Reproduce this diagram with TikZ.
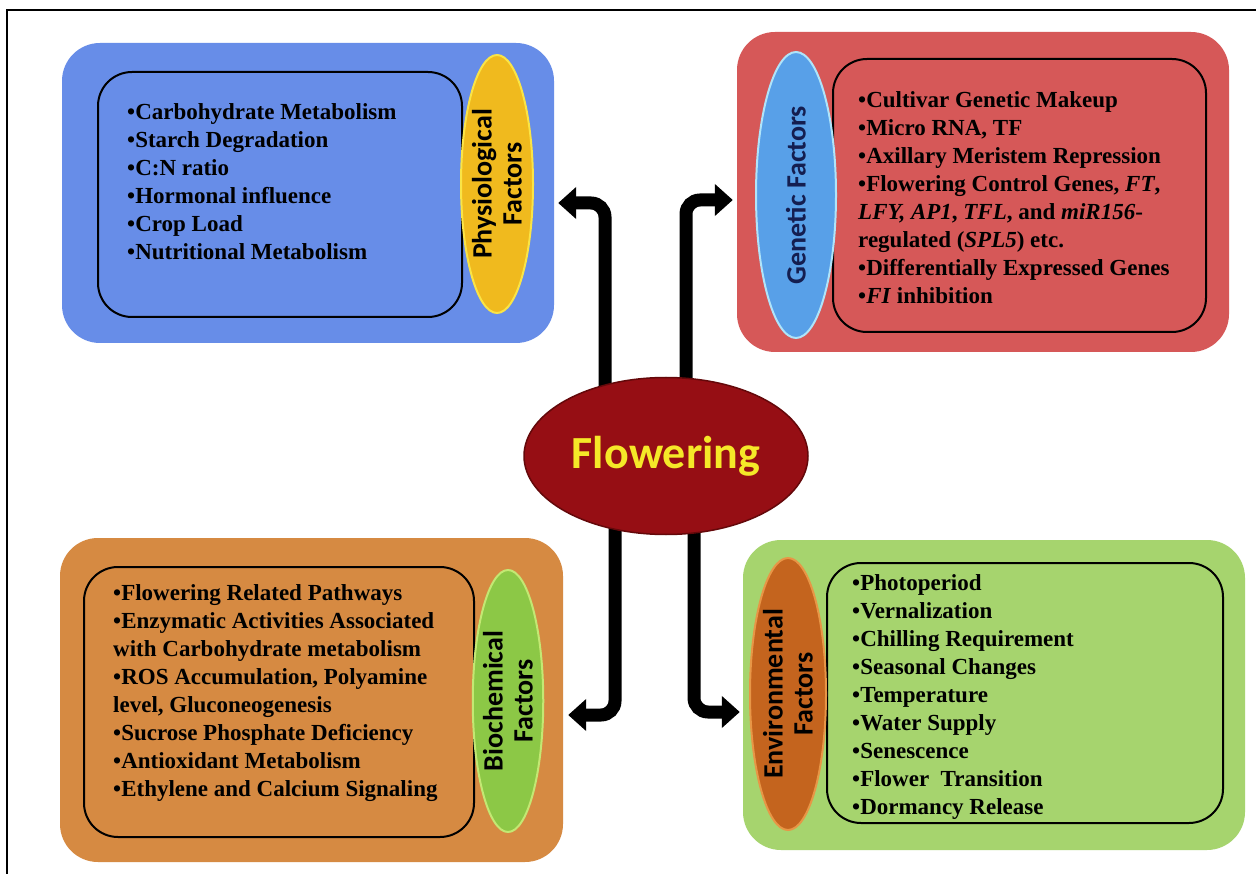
\documentclass[tikz,border=0pt]{standalone}
\usepackage{fontspec}
\setmainfont{Liberation Serif}
\newfontfamily\calfont{Carlito}
\usetikzlibrary{shapes.geometric,arrows.meta}
\pgfdeclarelayer{bg}
\pgfsetlayers{bg,main}
\definecolor{physblue}{RGB}{103,141,232}
\definecolor{physyellow}{RGB}{240,186,30}
\definecolor{physyellowrim}{RGB}{250,228,70}
\definecolor{genred}{RGB}{214,88,88}
\definecolor{genblue}{RGB}{88,160,232}
\definecolor{genbluerim}{RGB}{175,228,250}
\definecolor{bioorange}{RGB}{214,138,66}
\definecolor{biogreen}{RGB}{140,200,70}
\definecolor{biogreenrim}{RGB}{195,232,115}
\definecolor{envgreen}{RGB}{166,212,110}
\definecolor{envorange}{RGB}{196,100,30}
\definecolor{envorangerim}{RGB}{232,150,70}
\definecolor{flowred}{RGB}{150,14,20}
\definecolor{flowdark}{RGB}{100,8,10}
\definecolor{flowyellow}{RGB}{245,232,40}
\definecolor{navytext}{RGB}{20,30,80}
\begin{document}
\begin{tikzpicture}[x=1pt,y=-1pt,
  outerbox/.style={rounded corners=38pt, inner sep=0pt},
  innerbox/.style={draw=black, line width=2pt, rounded corners=34pt},
  factor/.style={ellipse, rotate=90, inner sep=0pt, align=center, line width=2pt,
    font=\calfont\bfseries\fontsize{28}{30}\selectfont},
  items/.style={anchor=north west, align=left, inner sep=0pt,
    font=\bfseries\fontsize{23}{28}\selectfont},
  arr/.style={line width=13pt, rounded corners=14pt, -{Triangle[length=18pt,width=31pt]}},
]
\useasboundingbox (0,0) rectangle (1256,874);
\begin{pgfonlayer}{bg}
\fill[white] (0,0) rectangle (1256,874);
\end{pgfonlayer}
\draw[line width=2pt] (7,874) -- (7,10) -- (1256,10);

% Physiological
\node[outerbox, fill=physblue, minimum width=492pt, minimum height=300pt] (phys) at (308,193) {};
\draw[innerbox] (98,72) rectangle (462,317);
\node[factor, fill=physyellow, draw=physyellowrim, minimum width=258pt, minimum height=72pt, text=black] (physE) at (497,184) {Physiological\\Factors};
\node[items] (physT) at (127,103) {•Carbohydrate Metabolism\\•Starch Degradation\\•C:N ratio\\•Hormonal influence\\•Crop Load\\•Nutritional Metabolism};

% Genetic
\node[outerbox, fill=genred, minimum width=492pt, minimum height=320pt] (gen) at (983,192) {};
\draw[innerbox] (833,59) rectangle (1206,332);
\node[factor, fill=genblue, draw=genbluerim, minimum width=286pt, minimum height=80pt, text=navytext] (genE) at (796,195) {Genetic Factors};
\node[items] (genT) at (858,91) {•Cultivar Genetic Makeup\\•Micro RNA, TF\\•Axillary Meristem Repression\\•Flowering Control Genes, \textit{FT},\\\textit{LFY, AP1}, \textit{TFL}, and \textit{miR156}-\\regulated (\textit{SPL5}) etc.\\•Differentially Expressed Genes\\•\textit{FI} inhibition};

% Biochemical
\node[outerbox, fill=bioorange, minimum width=503pt, minimum height=324pt] (bio) at (311.5,700) {};
\draw[innerbox] (84,567) rectangle (474,837);
\node[factor, fill=biogreen, draw=biogreenrim, minimum width=262pt, minimum height=68pt, text=black] (bioE) at (508,701) {Biochemical\\Factors};
\node[items] (bioT) at (113,584) {•Flowering Related Pathways\\•Enzymatic Activities Associated\\with Carbohydrate metabolism\\•ROS Accumulation, Polyamine\\level, Gluconeogenesis\\•Sucrose Phosphate Deficiency\\•Antioxidant Metabolism\\•Ethylene and Calcium Signaling};

% Environmental
\node[outerbox, fill=envgreen, minimum width=502pt, minimum height=310pt] (env) at (994,695) {};
\draw[innerbox] (827,563) rectangle (1223,823);
\node[factor, fill=envorange, draw=envorangerim, minimum width=272pt, minimum height=76pt, text=black] (envE) at (788,694) {Environmental\\Factors};
\node[items] (envT) at (852,574) {•Photoperiod\\•Vernalization\\•Chilling Requirement\\•Seasonal Changes\\•Temperature\\•Water Supply\\•Senescence\\•Flower~~Transition\\•Dormancy Release};

% Centre
\node[ellipse, fill=flowred, draw=flowdark, line width=1.5pt, minimum width=284pt, minimum height=157pt, inner sep=0pt,
  text=flowyellow, font=\calfont\bfseries\fontsize{46}{54}\selectfont] (flow) at (666,456) {\raisebox{-4pt}{Flowering}};

\begin{pgfonlayer}{bg}
\draw[arr] ([xshift=-61pt]flow.center) |- ([xshift=4pt,yshift=-10pt]phys.east);
\draw[arr] ([xshift=20pt]flow.center) |- ([xshift=-4pt,yshift=-8pt]gen.west);
\draw[arr] ([xshift=-51pt]flow.center) |- ([xshift=5pt,yshift=-15pt]bio.east);
\draw[arr] ([xshift=28pt]flow.center) |- ([xshift=-3pt,yshift=-17pt]env.west);
\end{pgfonlayer}
\end{tikzpicture}
\end{document}
